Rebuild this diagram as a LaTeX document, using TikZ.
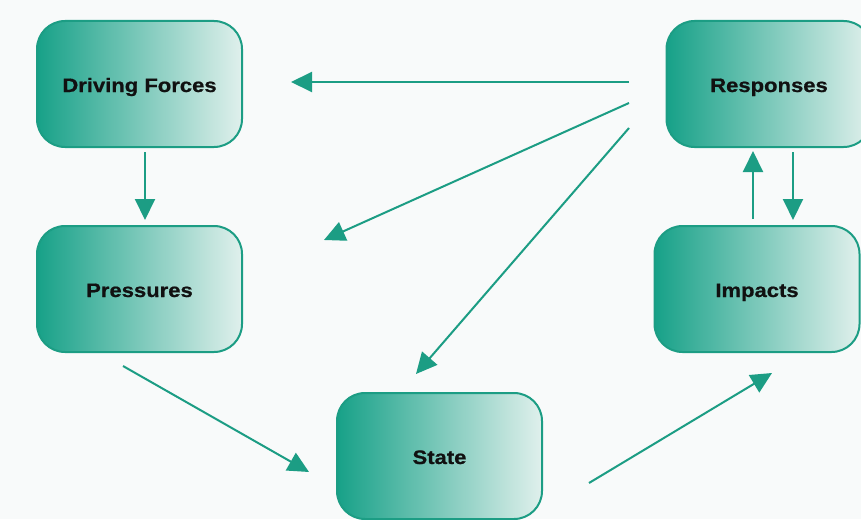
\documentclass[tikz,border=0pt]{standalone}
\usepackage{fontspec}
\setmainfont{Liberation Sans}[FakeStretch=1.13, BoldFeatures={FakeBold=0.7}]
\usetikzlibrary{arrows.meta}
\definecolor{teal1}{HTML}{17A188}
\definecolor{tealmid}{HTML}{6CC2AF}
\definecolor{teallight}{HTML}{E0F0EC}
\definecolor{edgecol}{HTML}{1C9D84}
\definecolor{bgcol}{HTML}{F8FAFA}
\definecolor{txtcol}{HTML}{111111}
\tikzset{
  stagebox/.style={rounded corners=28pt, draw=edgecol, line width=2pt,
    left color=teal1, middle color=tealmid, right color=teallight,
    minimum width=205pt, minimum height=126pt,
    inner sep=0pt, text height=16pt, text depth=0pt,
    font=\fontsize{19.5}{23}\selectfont\bfseries, text=txtcol},
  arr/.style={draw=edgecol, line width=2pt, -{Triangle[length=21pt,width=20pt]}}
}
\begin{document}
\begin{tikzpicture}[x=1pt,y=-1pt]
\useasboundingbox (0,0) rectangle (861,519);
\fill[bgcol] (0,0) rectangle (861,519);
\clip (0,0) rectangle (861,519);
\node[stagebox] (drv) at (139.5,84) {Driving Forces};
\node[stagebox] (prs) at (139.5,289) {Pressures};
\node[stagebox] (sta) at (439.5,456) {State};
\node[stagebox] (rsp) at (769,84) {Responses};
\node[stagebox] (imp) at (757,289) {Impacts};
% connector ends
\coordinate (r1) at (629,82);
\coordinate (r2) at (629,103);
\coordinate (r3) at (629,128);
\coordinate (d1) at (291,82);
\coordinate (p1) at (324,240);
\coordinate (s1) at (416,374);
\coordinate (dbot) at (145,152);
\coordinate (ptop) at (145,220);
\coordinate (pbot) at (123,366);
\coordinate (sin) at (309,472);
\coordinate (sout) at (589,483);
\coordinate (iin) at (772,373);
\coordinate (iup1) at (753,219);
\coordinate (rdn1) at (753,151);
\coordinate (rdn2) at (793,152);
\coordinate (iup2) at (793,220);
\draw[arr] (r1) -- (d1);
\draw[arr] (r2) -- (p1);
\draw[arr] (r3) -- (s1);
\draw[arr] (dbot) -- (ptop);
\draw[arr] (pbot) -- (sin);
\draw[arr] (sout) -- (iin);
\draw[arr] (iup1) -- (rdn1);
\draw[arr] (rdn2) -- (iup2);
\end{tikzpicture}
\end{document}
